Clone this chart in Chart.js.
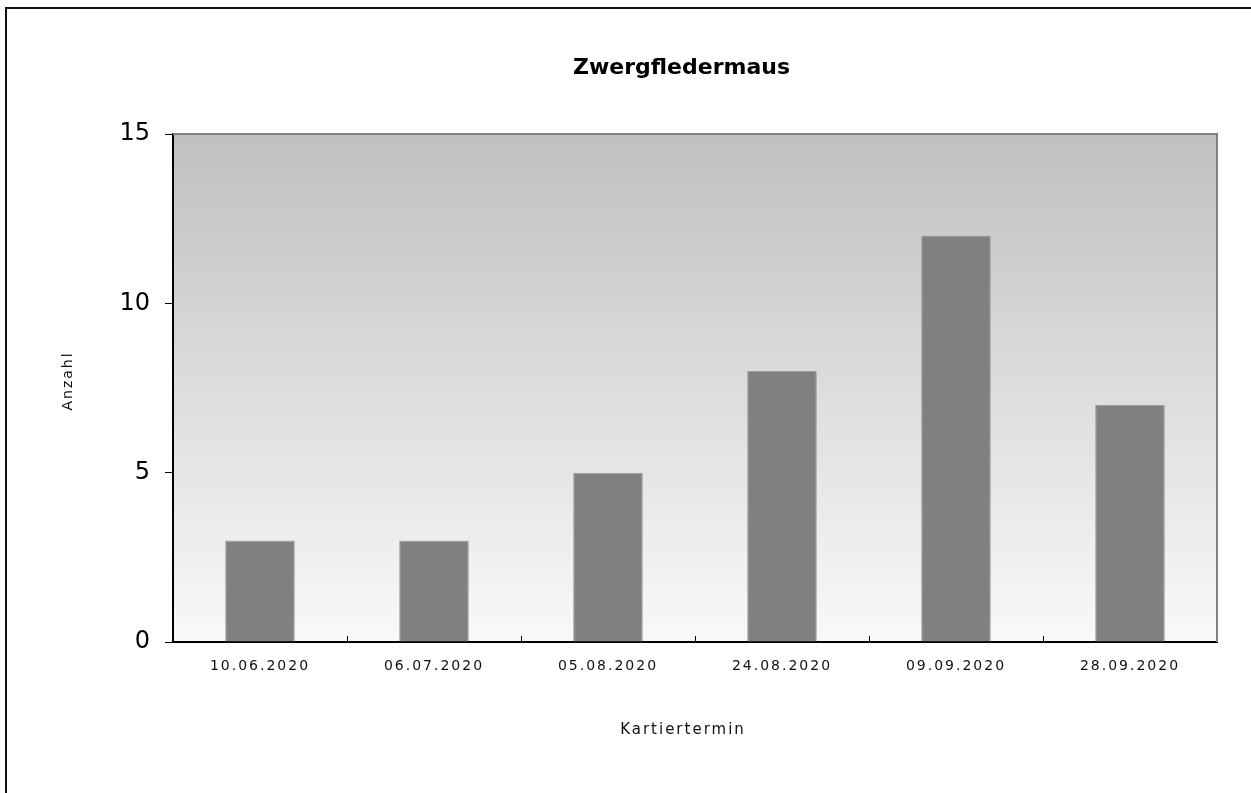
<!DOCTYPE html>
<html>
<head>
<meta charset="utf-8">
<script src="https://cdn.jsdelivr.net/npm/chart.js@4"></script>
<style>
  body { margin: 0; background: #fff; }
</style>
</head>
<body>
<canvas id="barChart" width="1251" height="793"></canvas>
<script>
const btx = document.getElementById('barChart').getContext('2d');

// data
const termine = ['10.06.2020', '06.07.2020', '05.08.2020', '24.08.2020', '09.09.2020', '28.09.2020'];
const anzahl = [3, 3, 5, 8, 12, 7];
const yTicks = [0, 5, 10, 15];

const SPACING = '2px';

// wrap a draw call: own letter spacing and a small nudge
function tweak(obj, name, spacing, dx, dy) {
    if (!obj || obj['_tw_' + name]) return;
    const orig = obj[name];
    obj[name] = function(...args) {
        const c = this.ctx;
        c.save();
        c.letterSpacing = spacing;
        c.translate(dx, dy);
        orig.apply(this, args);
        c.restore();
    };
    obj['_tw_' + name] = true;
}

// the old office look: grey gradient plot, frame round everything
const frame = {
    id: 'frame',
    beforeUpdate(chart) {
        chart.ctx.letterSpacing = SPACING;
    },
    afterUpdate(chart) {
        tweak(chart.scales.y, 'drawLabels', '0px', 0, 0);
        tweak(chart.scales.y, 'drawTitle', SPACING, 0, -7);
        tweak(chart.scales.x, 'drawTitle', SPACING, -12, 0);
        tweak(chart.titleBlock, 'draw', '0px', 73, 0);
    },
    beforeDraw(chart) {
        const c = chart.ctx;
        const a = chart.chartArea;
        c.letterSpacing = SPACING;
        c.save();
        c.fillStyle = '#fff';
        c.fillRect(0, 0, chart.width, chart.height);
        const g = c.createLinearGradient(0, a.top, 0, a.bottom);
        g.addColorStop(0, '#c0c0c0');
        g.addColorStop(1, '#f9f9f9');
        c.fillStyle = g;
        c.fillRect(a.left, a.top, a.right - a.left, a.bottom - a.top);
        c.strokeStyle = '#111';
        c.lineWidth = 2;
        c.strokeRect(6, 8, chart.width + 20, chart.height + 20);
        c.restore();
    },
    afterDatasetsDraw(chart) {
        const c = chart.ctx;
        const a = chart.chartArea;
        c.save();
        c.strokeStyle = '#808080';
        c.lineWidth = 2;
        c.beginPath();
        c.moveTo(a.left, a.top);
        c.lineTo(a.right, a.top);
        c.lineTo(a.right, a.bottom);
        c.stroke();
        c.restore();
    }
};

const barChart = new Chart(btx, {
    type: 'bar',
    data: {
        labels: termine,
        datasets: [
            {
                label: 'Zwergfledermaus',
                data: anzahl,
                backgroundColor: '#808080',
                borderColor: '#9c9c9c',
                borderWidth: 1,
                barPercentage: 0.4,
                categoryPercentage: 1
            }
        ]
    },
    options: {
        responsive: false,
        animation: false,
        layout: {
            padding: {top: 0, left: 0, right: 34, bottom: 0}
        },
        plugins: {
            legend: {display: false},
            tooltip: {enabled: false},
            title: {
                display: true,
                text: 'Zwergfledermaus',
                color: '#000',
                font: {family: 'DejaVu Sans', size: 22, weight: 'bold', lineHeight: 1.2},
                padding: {top: 55, bottom: 52.6}
            }
        },
        scales: {
            x: {
                afterFit(scale) { scale.height = 151; },
                grid: {
                    offset: true,
                    drawOnChartArea: false,
                    drawTicks: true,
                    tickLength: -6,
                    color: '#000',
                    lineWidth: 1
                },
                border: {display: true, color: '#000', width: 2},
                ticks: {
                    color: '#111',
                    padding: 21.6,
                    maxRotation: 0,
                    font: {family: 'DejaVu Sans', size: 14}
                },
                title: {
                    display: true,
                    text: 'Kartiertermin',
                    color: '#111',
                    font: {family: 'DejaVu Sans', size: 15, lineHeight: 1.2},
                    padding: {top: 0, bottom: 54}
                }
            },
            y: {
                min: 0,
                max: 15,
                afterFit(scale) { scale.width = 173; },
                afterBuildTicks(scale) {
                    scale.ticks = yTicks.map(v => ({value: v}));
                },
                grid: {
                    drawOnChartArea: false,
                    drawTicks: true,
                    tickLength: 8,
                    color: '#000',
                    lineWidth: 1
                },
                border: {display: true, color: '#000', width: 2},
                ticks: {
                    color: '#000',
                    padding: 15,
                    font: {family: 'DejaVu Sans', size: 24}
                },
                title: {
                    display: true,
                    text: 'Anzahl',
                    color: '#111',
                    font: {family: 'DejaVu Sans', size: 14, lineHeight: 1.2},
                    padding: {top: 59.6, bottom: 0}
                }
            }
        }
    },
    plugins: [frame]
});
</script>
</body>
</html>
